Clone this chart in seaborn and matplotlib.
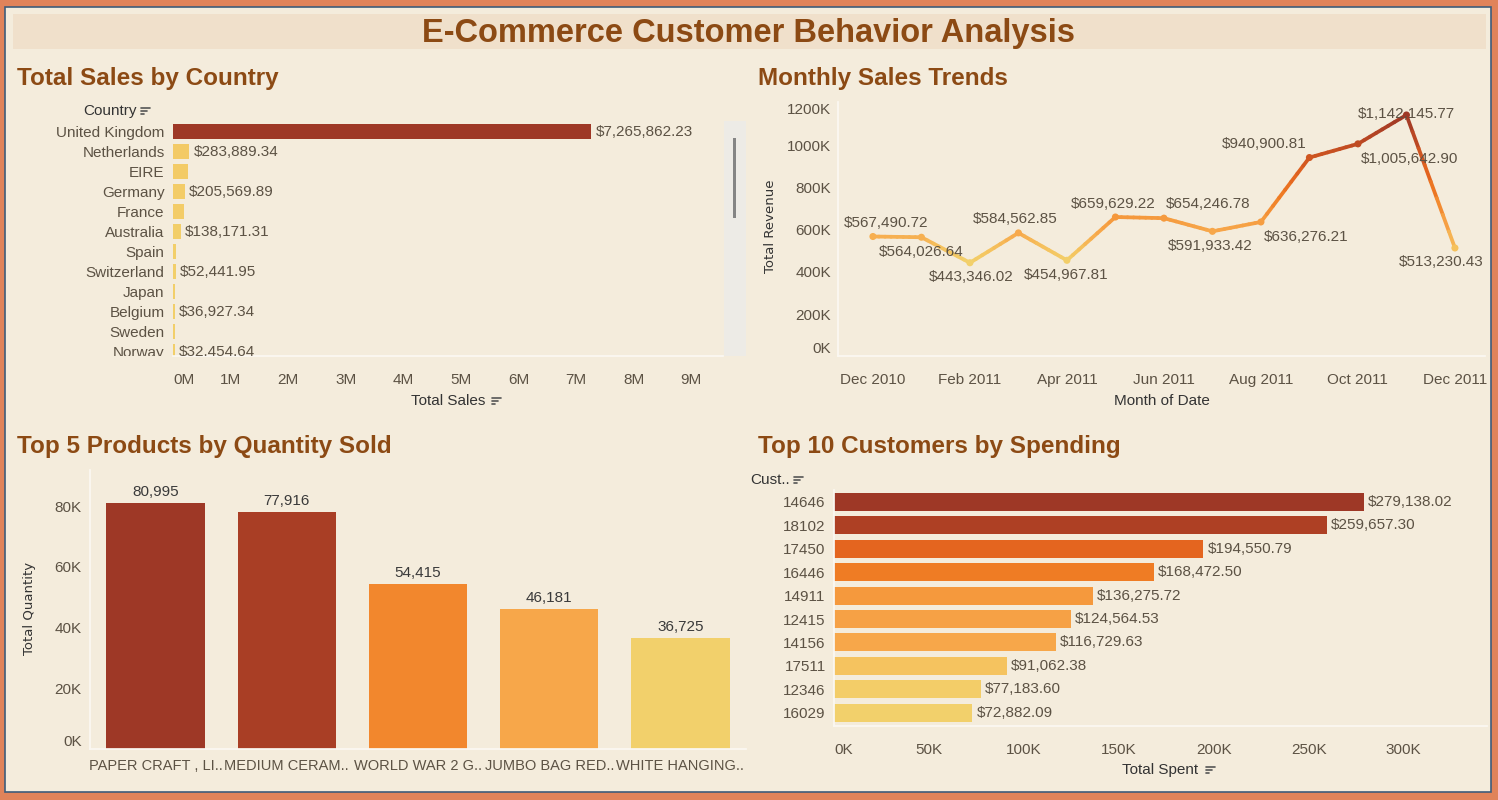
import numpy as np, pandas as pd
import matplotlib; matplotlib.use("Agg")
import matplotlib.pyplot as plt
from matplotlib.colors import LinearSegmentedColormap, Normalize
from matplotlib.collections import LineCollection
from matplotlib.patches import Rectangle
from matplotlib.lines import Line2D
from matplotlib.transforms import Bbox, TransformedBbox
import seaborn as sns

sns.set_theme(style="white")
plt.rcParams["font.family"] = ["Liberation Sans", "DejaVu Sans"]

# ---------------- data ----------------
countries = ["United Kingdom", "Netherlands", "EIRE", "Germany", "France", "Australia",
             "Spain", "Switzerland", "Japan", "Belgium", "Sweden", "Norway"]
country_sales = [7265862.23, 283889.34, 256000, 205569.89, 187000, 138171.31,
                 55000, 52441.95, 37400, 36927.34, 36600, 32454.64]
country_labelled = [True, True, False, True, False, True, False, True, False, True, False, True]

months = ["Dec 2010", "Jan 2011", "Feb 2011", "Mar 2011", "Apr 2011", "May 2011", "Jun 2011",
          "Jul 2011", "Aug 2011", "Sep 2011", "Oct 2011", "Nov 2011", "Dec 2011"]
revenue = [567490.72, 564026.64, 443346.02, 584562.85, 454967.81, 659629.22, 654246.78,
           591933.42, 636276.21, 940900.81, 1005642.90, 1142145.77, 513230.43]

products = ["PAPER CRAFT , LI..", "MEDIUM CERAM..", "WORLD WAR 2 G..", "JUMBO BAG RED..", "WHITE HANGING.."]
quantity = [80995, 77916, 54415, 46181, 36725]

customers = ["14646", "18102", "17450", "16446", "14911", "12415", "14156", "17511", "12346", "16029"]
spent = [279138.02, 259657.30, 194550.79, 168472.50, 136275.72, 124564.53, 116729.63,
         91062.38, 77183.60, 72882.09]

# label offsets (pixels) for the line chart
line_offsets = [(13, 14), (0, -15), (1, -14), (-3, 14), (-1, -15), (-2, 13), (44, 14),
                (-2, -15), (45, -15), (-45, 14), (52, -15), (0, 1), (-14, -14)]

# ---------------- style ----------------
W, H = 1498, 800
BG = "#F4ECDC"
TITLE_C = "#8C4A14"
TICK_C = "#5C5244"
AX_C = "#FBF8F2"
cmap = LinearSegmentedColormap.from_list("og", [
    (0, "#F2D06B"), (0.1, "#F5C15D"), (0.2, "#F7A94C"), (0.3, "#F59A3E"),
    (0.45, "#F07E25"), (0.6, "#E3641F"), (0.85, "#B74523"), (1, "#9E3826")])
TICK = dict(fontsize=11, color=TICK_C)

def box(l, t, r, b):
    return [l / W, 1 - b / H, (r - l) / W, (b - t) / H]
def fx(x): return x / W
def fy(y): return 1 - y / H

fig = plt.figure(figsize=(W / 100, H / 100), dpi=100)
fig.patch.set_facecolor("#E0835A")
fig.add_artist(Rectangle((fx(5), fy(792)), fx(1491) - fx(5), fy(7) - fy(792), zorder=-10,
                         transform=fig.transFigure, facecolor=BG, edgecolor="#3E5C7A", lw=1.2))
fig.add_artist(Rectangle((fx(13), fy(49)), fx(1486) - fx(13), fy(14) - fy(49), zorder=-9,
                         transform=fig.transFigure, facecolor="#F0E0CB", edgecolor="none"))
fig.text(0.5, fy(33.5), "E-Commerce Customer Behavior Analysis", ha="center", va="center",
         fontsize=23.5, fontweight="bold", color=TITLE_C)
for x, y, t in [(17, 78.5, "Total Sales by Country"), (758, 78.5, "Monthly Sales Trends"),
                (17, 446.5, "Top 5 Products by Quantity Sold"), (758, 446.5, "Top 10 Customers by Spending")]:
    fig.text(fx(x), fy(y), t, ha="left", va="center", fontsize=17.5, fontweight="bold", color=TITLE_C)

def sort_icon(x, y):
    for k, ln in enumerate([9, 6, 3]):
        yy = y - 3 + k * 3
        fig.add_artist(Line2D([fx(x), fx(x + ln)], [fy(yy), fy(yy)], color="#555555", lw=1.2,
                              transform=fig.transFigure))

def header(x_right, y, text):
    fig.text(fx(x_right), fy(y), text, ha="right", va="center", fontsize=11, color="#333333")
    sort_icon(x_right + 4, y)

def axis_title(xc, y, text, icon_dx):
    fig.text(fx(xc), fy(y), text, ha="center", va="center", fontsize=11, color="#333333")
    sort_icon(xc + icon_dx, y)

def clean(ax, left=True):
    ax.set_facecolor("none")
    for s in ["top", "right"]:
        ax.spines[s].set_visible(False)
    ax.spines["bottom"].set_color(AX_C)
    ax.spines["left"].set_color(AX_C)
    ax.spines["left"].set_visible(left)
    ax.tick_params(axis="both", which="both", colors=AX_C, labelcolor=TICK_C, labelsize=11)
    ax.set_xlabel(""); ax.set_ylabel("")

BAR = dict(saturation=1, linewidth=0, edgecolor="none", legend=False)

# ---------------- 1: Total sales by country ----------------
ax1 = fig.add_axes(box(173, 121, 723, 356))
df1 = pd.DataFrame({"Country": countries, "Sales": country_sales})
n1 = Normalize(0, max(country_sales))
sns.barplot(data=df1, y="Country", x="Sales", hue="Country", orient="h",
            palette=[cmap(n1(v)) for v in country_sales], width=0.75, ax=ax1, **BAR)
clean(ax1, left=False)
ax1.set_xlim(0, 9.55e6)
ax1.set_ylim(11.21, -0.55)
ax1.set_xticks(np.arange(0, 10e6, 1e6))
ax1.set_xticklabels([f"{i}M" for i in range(10)])
ax1.get_xticklabels()[0].set_ha("left")
ax1.tick_params(axis="x", length=5, width=1, pad=7)
ax1.tick_params(axis="y", length=0, pad=6)
for i, (v, show) in enumerate(zip(country_sales, country_labelled)):
    if show:
        ax1.annotate(f"${v:,.2f}", (v, i), xytext=(4, 0), textcoords="offset pixels",
                     va="center", ha="left", clip_on=True, **TICK)
clipbox = TransformedBbox(Bbox([[0, fy(356)], [1, 1]]), fig.transFigure)
for lbl in ax1.get_yticklabels():
    lbl.set_clip_box(clipbox); lbl.set_clip_on(True)
header(137, 111, "Country")
axis_title(448, 401, "Total Sales", 44)
# scroll bar
fig.add_artist(Rectangle((fx(724), fy(356)), fx(746) - fx(724), fy(121) - fy(356),
                         transform=fig.transFigure, facecolor="#EDEBE6", edgecolor="none"))
fig.add_artist(Rectangle((fx(733), fy(218)), fx(736) - fx(733), fy(138) - fy(218),
                         transform=fig.transFigure, facecolor="#858585", edgecolor="none"))

# ---------------- 2: Monthly sales trends ----------------
ax2 = fig.add_axes(box(838, 101.7, 1485, 356.5))
df2 = pd.DataFrame({"idx": np.arange(len(months)), "Month": months, "Revenue": revenue})
n2 = Normalize(min(revenue), max(revenue))
# each segment shaded from the colour of its start point to that of its end point
segs, seg_cols = [], []
for i in range(len(revenue) - 1):
    fr = np.linspace(0, 1, 9)
    xs = i + fr
    ys = revenue[i] + (revenue[i + 1] - revenue[i]) * fr
    cs = n2(revenue[i]) + (n2(revenue[i + 1]) - n2(revenue[i])) * (fr[:-1] + fr[1:]) / 2
    for k in range(len(fr) - 1):
        segs.append([(xs[k], ys[k]), (xs[k + 1], ys[k + 1])])
        seg_cols.append(cmap(cs[k]))
ax2.add_collection(LineCollection(segs, colors=seg_cols, linewidths=2.7, capstyle="round",
                                  joinstyle="round", zorder=2))
sns.scatterplot(data=df2, x="idx", y="Revenue", hue="Revenue", palette=cmap, hue_norm=n2,
                s=26, linewidth=0, legend=False, zorder=3, ax=ax2)
clean(ax2)
ax2.set_xlim(-0.72, 12.62)
ax2.set_ylim(0, 1.205e6)
ax2.set_xticks(np.arange(0, 13, 2))
ax2.set_xticklabels(months[::2])
ax2.set_xticks(np.arange(13), minor=True)
ax2.set_yticks(np.arange(0, 1.3e6, 2e5))
ax2.set_yticklabels([f"{int(v / 1000)}K" for v in np.arange(0, 1.3e6, 2e5)])
ylbls = ax2.get_yticklabels()
ylbls[0].set_va("bottom"); ylbls[-1].set_va("top")
ax2.tick_params(axis="x", which="both", length=5, pad=7)
ax2.tick_params(axis="y", length=0, pad=5)
for i, (v, (dx, dy)) in enumerate(zip(revenue, line_offsets)):
    ax2.annotate(f"${v:,.2f}", (i, v), xytext=(dx, dy), textcoords="offset pixels",
                 ha="center", va="center", **TICK)
fig.text(fx(771), fy(226), "Total Revenue", rotation=90, ha="center", va="center",
         fontsize=9.5, color="#333333", family="DejaVu Sans")
fig.text(fx(1162), fy(401), "Month of Date", ha="center", va="center", fontsize=11, color="#333333")

# ---------------- 3: Top 5 products ----------------
ax3 = fig.add_axes(box(90, 470, 746, 749))
df3 = pd.DataFrame({"Product": products, "Quantity": quantity})
n3 = Normalize(min(quantity), max(quantity))
sns.barplot(data=df3, x="Product", y="Quantity", hue="Product",
            palette=[cmap(n3(v)) for v in quantity], width=0.75, ax=ax3, **BAR)
clean(ax3)
ax3.set_xlim(-0.5, 4.5)
ax3.set_ylim(0, 91.9e3)
ax3.set_yticks(np.arange(0, 8.1e4, 2e4))
ax3.set_yticklabels([f"{int(v / 1000)}K" for v in np.arange(0, 8.1e4, 2e4)])
ax3.get_yticklabels()[0].set_va("bottom")
ax3.set_xticks(np.arange(-0.5, 5, 1), minor=True)
ax3.tick_params(axis="x", which="major", length=0, pad=7, labelsize=10.5)
ax3.tick_params(axis="x", which="minor", length=5)
ax3.tick_params(axis="y", length=0, pad=6)
for i, v in enumerate(quantity):
    ax3.annotate(f"{v:,}", (i, v), xytext=(0, 4), textcoords="offset pixels",
                 ha="center", va="bottom", fontsize=11, color="#3A3A3A")
fig.text(fx(30), fy(608), "Total Quantity", rotation=90, ha="center", va="center",
         fontsize=9.5, color="#333333", family="DejaVu Sans")

# ---------------- 4: Top 10 customers ----------------
ax4 = fig.add_axes(box(834, 490, 1487, 726))
df4 = pd.DataFrame({"Customer": customers, "Spent": spent})
n4 = Normalize(min(spent), max(spent))
sns.barplot(data=df4, y="Customer", x="Spent", hue="Customer", orient="h",
            palette=[cmap(n4(v)) for v in spent], width=0.77, ax=ax4, **BAR)
clean(ax4)
ax4.set_xlim(0, 343.9e3)
ax4.set_ylim(9.57, -0.51)
ax4.set_xticks(np.arange(0, 3.1e5, 5e4))
ax4.set_xticklabels([f"{int(v / 1000)}K" for v in np.arange(0, 3.1e5, 5e4)])
ax4.get_xticklabels()[0].set_ha("left")
ax4.tick_params(axis="x", length=5, pad=7)
ax4.tick_params(axis="y", length=0, pad=6)
for i, v in enumerate(spent):
    ax4.annotate(f"${v:,.2f}", (v, i), xytext=(4, 0), textcoords="offset pixels",
                 va="center", ha="left", **TICK)
header(790, 480, "Cust..")
axis_title(1160, 770, "Total Spent", 46)

fig.savefig("out.png", dpi=100, facecolor=fig.get_facecolor())
